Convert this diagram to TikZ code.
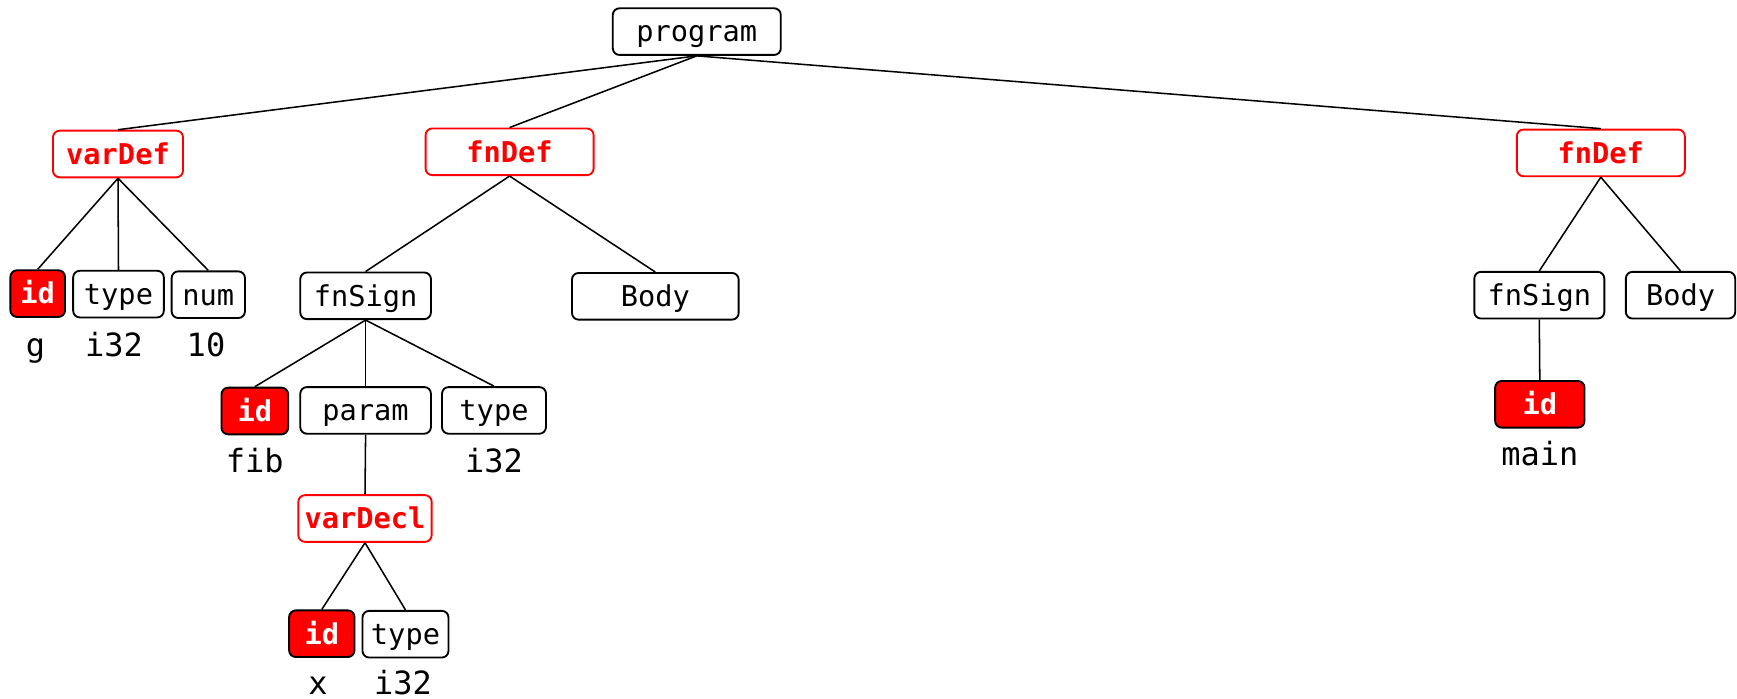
\documentclass[tikz,border=0pt]{standalone}
\usepackage{fontspec}
\setmonofont{DejaVu Sans Mono}
\definecolor{hot}{HTML}{FF0000}
\begin{document}
\begin{tikzpicture}[x=0.75pt,y=-0.75pt,
  box/.style={draw=black,line width=1.4pt,rounded corners=5pt,fill=white,
    minimum height=35pt,inner sep=0pt,text height=15.5pt,text depth=0pt,
    font=\fontsize{21.5}{24}\selectfont\ttfamily},
  redbox/.style={box,draw=hot,text=hot,font=\fontsize{21.5}{24}\selectfont\ttfamily\bfseries},
  idbox/.style={box,fill=hot,text=white,font=\fontsize{21.5}{24}\selectfont\ttfamily\bfseries},
  leaf/.style={anchor=base,inner sep=0pt,font=\fontsize{24}{28}\selectfont\ttfamily},
  link/.style={line width=1.15pt}]
\useasboundingbox (0,0) rectangle (1737,699);

% root
\node[box,minimum width=126pt] (prog) at (696.8,31.6) {program};

% global variable definition
\node[redbox,minimum width=97.5pt] (vdef) at (118,154) {varDef};
\node[idbox,minimum width=41pt] (gid) at (37.7,293.6) {id};
\node[box,minimum width=68pt] (gtype) at (118.5,294.1) {type};
\node[box,minimum width=55pt] (gnum) at (208.3,294.7) {num};
\node[leaf] (gname) at (35.4,356.5) {g};
\node[leaf] (gty) at (114,356.5) {i32};
\node[leaf] (gval) at (206,356.5) {10};

% function fib
\node[redbox,minimum width=126pt] (fdefa) at (509.6,151.8) {fnDef};
\node[box,minimum width=98pt] (fsiga) at (365.6,295.8) {fnSign};
\node[box,minimum width=125pt] (bodya) at (655.3,296.3) {Body};
\node[idbox,minimum width=50pt] (fibid) at (254.8,411) {id};
\node[box,minimum width=98pt] (prm) at (365.6,410.4) {param};
\node[box,minimum width=78pt] (rtype) at (494,410.4) {type};
\node[leaf] (fibname) at (254.8,472) {fib};
\node[leaf] (rty) at (494,472) {i32};
\node[redbox,minimum width=100pt] (vdecl) at (365,518.5) {varDecl};
\node[idbox,minimum width=49pt] (xid) at (321.8,633.7) {id};
\node[box,minimum width=64.5pt] (xtype) at (405.5,634.2) {type};
\node[leaf] (xname) at (318,694) {x};
\node[leaf] (xty) at (403,694) {i32};

% function main
\node[redbox,minimum width=126pt] (fdefb) at (1600.8,152.9) {fnDef};
\node[box,minimum width=97.5pt] (fsigb) at (1539.3,295.2) {fnSign};
\node[box,minimum width=82pt] (bodyb) at (1680.5,295.2) {Body};
\node[idbox,minimum width=67pt] (mainid) at (1539.8,404.3) {id};
\node[leaf] (mainname) at (1539.8,465) {main};

% tree edges
\draw[link] (prog.south) -- (vdef.north);
\draw[link] (prog.south) -- (fdefa.north);
\draw[link] (prog.south) -- (fdefb.north);
\draw[link] (vdef.south) -- (gid.north);
\draw[link] (vdef.south) -- (gtype.north);
\draw[link] (vdef.south) -- (gnum.north);
\draw[link] (fdefa.south) -- (fsiga.north);
\draw[link] (fdefa.south) -- (bodya.north);
\draw[link] (fsiga.south) -- (fibid.north);
\draw[link] (fsiga.south) -- (prm.north);
\draw[link] (fsiga.south) -- (rtype.north);
\draw[link] (prm.south) -- (vdecl.north);
\draw[link] (vdecl.south) -- (xid.north);
\draw[link] (vdecl.south) -- (xtype.north);
\draw[link] (fdefb.south) -- (fsigb.north);
\draw[link] (fdefb.south) -- (bodyb.north);
\draw[link] (fsigb.south) -- (mainid.north);
\end{tikzpicture}
\end{document}
